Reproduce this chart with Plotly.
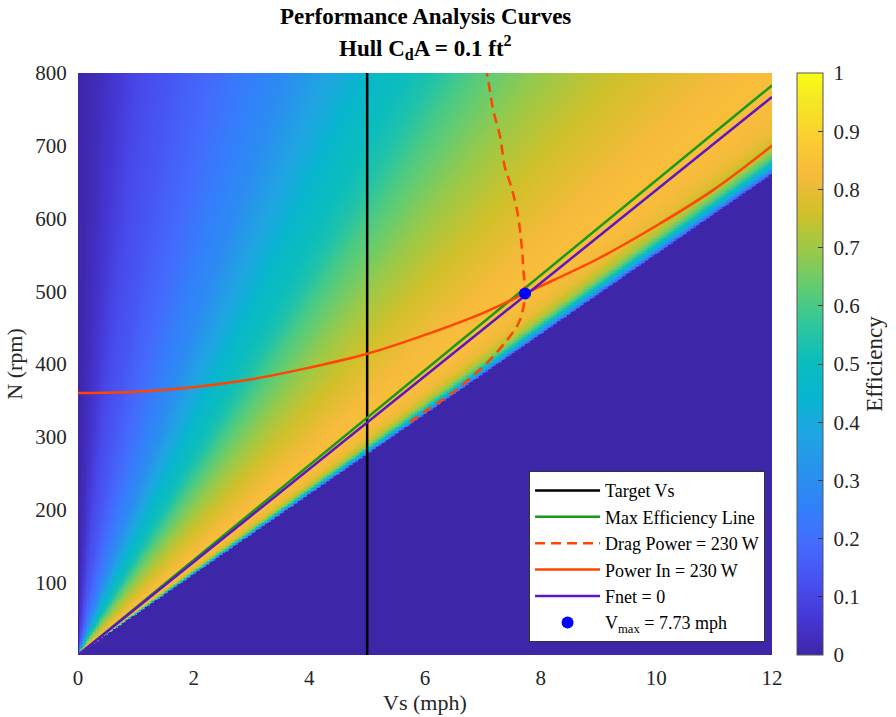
import numpy as np
import plotly.graph_objects as go

# ---- data ----
# efficiency as a function of the ratio N/Vs (rpm per mph)
RATIO = [55.0, 55.1, 55.5, 56.0, 56.8, 57.8, 59.5, 62.0, 65.0, 70.0, 78.0, 88.0,
         101.0, 119.0, 130.0, 156.0, 170.0, 225.0, 339.0, 500.0, 729.0, 1114.0,
         2000.0, 5000.0, 100000.0]
EFF = [0.0, 0.15, 0.30, 0.45, 0.60, 0.72, 0.80, 0.83, 0.84, 0.83, 0.79, 0.745,
       0.685, 0.60, 0.54, 0.47, 0.42, 0.285, 0.19, 0.14, 0.11, 0.065,
       0.03, 0.008, 0.0]

VS_GRID = np.linspace(0, 12, 481)
N_GRID = np.linspace(0, 800, 401)

TARGET_VS = [5, 5]
TARGET_N = [0, 800]

MAXEFF_VS = [0, 12]
MAXEFF_N = [0, 783]

FNET_VS = [0, 12]
FNET_N = [0, 767]

POWERIN_VS = [0, 1, 2, 3, 4, 5, 6, 7, 7.73, 8, 9, 10, 11, 12]
POWERIN_N = [360, 362, 368, 379, 395, 414, 440, 470, 497, 507, 545, 590, 640, 700]

DRAG_VS = [5.74, 6.0, 6.4, 7.0, 7.42, 7.64, 7.73, 7.70, 7.68, 7.59, 7.47, 7.38,
           7.30, 7.18, 7.12, 7.07]
DRAG_N = [320, 335, 356, 396, 433, 460, 497, 529, 555, 612, 649, 671,
          712, 749, 777, 800]

VMAX_VS = [7.73]
VMAX_N = [497]

X_TICKS = [0, 2, 4, 6, 8, 10, 12]
Y_TICKS = [100, 200, 300, 400, 500, 600, 700, 800]
CB_TICKS = [0, 0.1, 0.2, 0.3, 0.4, 0.5, 0.6, 0.7, 0.8, 0.9, 1]
CB_LABELS = ["0", "0.1", "0.2", "0.3", "0.4", "0.5", "0.6", "0.7", "0.8", "0.9", "1"]

TITLE_1 = "<b>Performance Analysis Curves</b>"
TITLE_2 = "<b>Hull C<sub>d</sub>A = 0.1 ft<sup>2</sup></b>"
X_TITLE = "Vs (mph)"
Y_TITLE = "N (rpm)"

# ---- efficiency field from the ratio table ----
VV, NN = np.meshgrid(VS_GRID, N_GRID)
with np.errstate(divide="ignore", invalid="ignore"):
    ratio = np.where(VV > 0, NN / np.where(VV > 0, VV, 1), np.inf)
logr = np.log(np.clip(ratio, 1e-6, 1e9))
Z = np.interp(logr, np.log(RATIO), EFF)
Z[ratio < RATIO[0]] = 0.0
Z[~np.isfinite(ratio)] = 0.0
Z = np.round(Z, 3).astype(np.float32)

parula = [
    [0.000, "rgb(62,38,168)"],
    [0.063, "rgb(69,55,213)"],
    [0.127, "rgb(72,80,240)"],
    [0.190, "rgb(68,107,253)"],
    [0.254, "rgb(50,129,250)"],
    [0.317, "rgb(40,147,236)"],
    [0.381, "rgb(31,165,226)"],
    [0.444, "rgb(8,181,207)"],
    [0.508, "rgb(11,189,189)"],
    [0.571, "rgb(49,199,153)"],
    [0.635, "rgb(100,204,112)"],
    [0.698, "rgb(157,201,70)"],
    [0.762, "rgb(210,192,42)"],
    [0.825, "rgb(247,186,60)"],
    [0.889, "rgb(251,206,48)"],
    [0.952, "rgb(245,232,36)"],
    [1.000, "rgb(249,251,21)"],
]

FONT = "Liberation Serif, Times New Roman, serif"
TXT = "#262626"
RED = "rgb(255,69,0)"
NB = "\u00a0"

fig = go.Figure()
fig.add_trace(go.Heatmap(
    x=VS_GRID, y=N_GRID, z=Z, zmin=0, zmax=1, colorscale=parula,
    showlegend=False, hoverinfo="skip",
    colorbar=dict(
        x=1.036, xanchor="left", xpad=0, y=0.5, yanchor="middle", len=1, ypad=0,
        thickness=26, outlinewidth=1, outlinecolor="#555555",
        tickvals=CB_TICKS, ticktext=[NB + t for t in CB_LABELS],
        ticks="inside", ticklen=5,
        tickcolor="#333333", tickfont=dict(family=FONT, size=21, color=TXT),
        title=dict(text="Efficiency", side="right",
                   font=dict(family=FONT, size=23, color=TXT)),
    ),
))
fig.add_trace(go.Scatter(x=TARGET_VS, y=TARGET_N, mode="lines", name="Target Vs",
                         line=dict(color="black", width=2.5)))
fig.add_trace(go.Scatter(x=MAXEFF_VS, y=MAXEFF_N, mode="lines", name="Max Efficiency Line",
                         line=dict(color="rgb(25,153,25)", width=2.5)))
fig.add_trace(go.Scatter(x=DRAG_VS, y=DRAG_N, mode="lines", name="Drag Power = 230 W",
                         line=dict(color=RED, width=2.5, dash="10px,6px", shape="spline")))
fig.add_trace(go.Scatter(x=POWERIN_VS, y=POWERIN_N, mode="lines", name="Power In = 230 W",
                         line=dict(color=RED, width=2.5, shape="spline")))
fig.add_trace(go.Scatter(x=FNET_VS, y=FNET_N, mode="lines", name="Fnet = 0",
                         line=dict(color="rgb(95,20,200)", width=2.5)))
fig.add_trace(go.Scatter(x=VMAX_VS, y=VMAX_N, mode="markers",
                         name="V<sub>max</sub> = 7.73 mph",
                         marker=dict(color="rgb(0,0,255)", size=12)))

# title as two annotations (pixel-controlled placement)
fig.add_annotation(text=TITLE_1, xref="paper", yref="paper", x=0.5, y=(655 - 17) / 582,
                   xanchor="center", yanchor="middle", showarrow=False,
                   font=dict(family=FONT, size=23, color="black"))
fig.add_annotation(text=TITLE_2, xref="paper", yref="paper", x=0.5, y=(655 - 48) / 582,
                   xanchor="center", yanchor="middle", showarrow=False,
                   font=dict(family=FONT, size=23, color="black"))
# x axis title
fig.add_annotation(text=X_TITLE, xref="paper", yref="paper", x=0.5, y=(655 - 702) / 582,
                   xanchor="center", yanchor="middle", showarrow=False,
                   font=dict(family=FONT, size=22, color=TXT))

fig.update_layout(
    width=896, height=717,
    margin=dict(l=78, r=124, t=73, b=62, autoexpand=False),
    paper_bgcolor="white", plot_bgcolor="white",
    font=dict(family=FONT, color=TXT),
    xaxis=dict(
        range=[0, 12], tickvals=X_TICKS, showgrid=False, zeroline=False, automargin=False,
        ticks="outside", ticklen=4, tickcolor="rgba(0,0,0,0)",
        tickfont=dict(family=FONT, size=21, color=TXT),
    ),
    yaxis=dict(
        range=[0, 800], tickvals=Y_TICKS, showgrid=False, zeroline=False, automargin=False,
        ticks="outside", ticklen=6, tickcolor="rgba(0,0,0,0)",
        tickfont=dict(family=FONT, size=21, color=TXT),
        title=dict(text=Y_TITLE, font=dict(family=FONT, size=22, color=TXT), standoff=6),
    ),
    legend=dict(
        x=0.99, xanchor="right", y=0.022, yanchor="bottom",
        bgcolor="white", bordercolor="#333333", borderwidth=1,
        font=dict(family=FONT, size=18, color="black"),
        tracegroupgap=0, itemwidth=65,
    ),
)

fig.write_html("out.html")
